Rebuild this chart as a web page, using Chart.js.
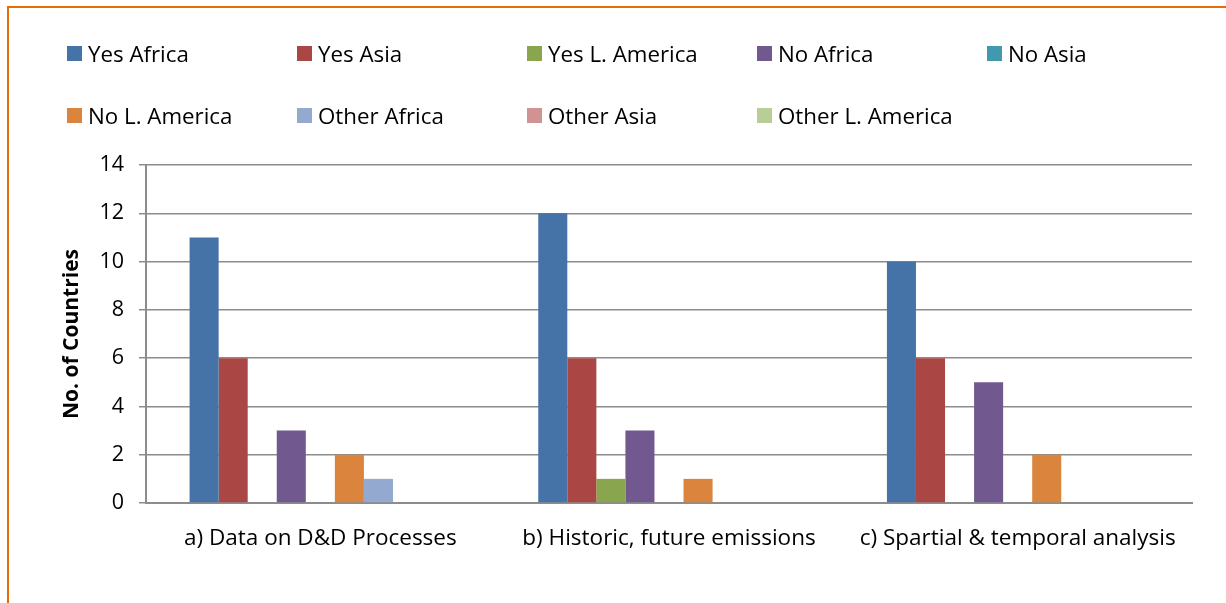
<!DOCTYPE html>
<html>
<head>
<meta charset="utf-8">
<script src="https://cdn.jsdelivr.net/npm/chart.js@4.4.1/dist/chart.umd.min.js"></script>
<style>
  html, body { margin: 0; padding: 0; background: #fff; overflow: hidden; }
  #wrap { position: relative; width: 1226px; height: 603px; overflow: hidden; }
  #frame { position: absolute; left: 7px; top: 6px; width: 1400px; height: 800px;
           border-left: 2px solid #E46C0A; border-top: 2px solid #E46C0A; }
  #chart { position: absolute; left: 0; top: 0; }
  #legend { position: absolute; left: 0; top: 0; width: 1226px; height: 150px;
            font-family: "Open Sans", Lato, sans-serif; font-size: 22.3px; color: #000; }
  .item { position: absolute; display: flex; align-items: center; white-space: nowrap; }
  .sw { width: 15px; height: 15px; margin-right: 6px; }
</style>
</head>
<body>
<div id="wrap">
  <div id="frame"></div>
  <canvas id="chart" width="1226" height="603"></canvas>
  <div id="legend"></div>
</div>
<script>
// Survey categories
const categories = [
  "a) Data on D&D Processes",
  "b) Historic, future emissions",
  "c) Spartial & temporal analysis"
];

// Number of countries per answer and region
const yesAfrica   = [11, 12, 10];
const yesAsia     = [6, 6, 6];
const yesLAmerica = [0, 1, 0];
const noAfrica    = [3, 3, 5];
const noAsia      = [0, 0, 0];
const noLAmerica  = [2, 1, 2];
const otherAfrica = [1, 0, 0];
const otherAsia   = [0, 0, 0];
const otherLAmerica = [0, 0, 0];

const yTicks = [0, 2, 4, 6, 8, 10, 12, 14];

const series = [
  { label: "Yes Africa",       data: yesAfrica,     color: "#4572A7" },
  { label: "Yes Asia",         data: yesAsia,       color: "#AA4643" },
  { label: "Yes L. America",   data: yesLAmerica,   color: "#89A54E" },
  { label: "No Africa",        data: noAfrica,      color: "#71588F" },
  { label: "No Asia",          data: noAsia,        color: "#4198AF" },
  { label: "No L. America",    data: noLAmerica,    color: "#DB843D" },
  { label: "Other Africa",     data: otherAfrica,   color: "#93A9CF" },
  { label: "Other Asia",       data: otherAsia,     color: "#D19392" },
  { label: "Other L. America", data: otherLAmerica, color: "#B9CD96" }
];

const FONT = "'Open Sans', Lato, sans-serif";
const GRID = "#8C8C8C";

const chart = new Chart(document.getElementById("chart"), {
  type: "bar",
  data: {
    labels: categories,
    datasets: series.map(s => ({
      label: s.label,
      data: s.data,
      backgroundColor: s.color,
      borderWidth: 0,
      categoryPercentage: 0.75,
      barPercentage: 1.0
    }))
  },
  options: {
    responsive: false,
    animation: false,
    events: [],
    layout: { padding: { left: 8, top: 165, right: 34, bottom: 0 } },
    plugins: { legend: { display: false }, tooltip: { enabled: false } },
    scales: {
      x: {
        grid: { display: false, drawTicks: false },
        border: { display: true, color: GRID, width: 2 },
        ticks: { color: "#000", font: { family: FONT, size: 22.5 }, padding: 22, maxRotation: 0 },
        afterFit: s => { s.height = 100; }
      },
      y: {
        min: 0, max: 14,
        afterBuildTicks: s => { s.ticks = yTicks.map(v => ({ value: v })); },
        grid: { color: GRID, lineWidth: 1.5, tickLength: 7, drawTicks: true },
        border: { display: true, color: GRID, width: 2 },
        ticks: { color: "#000", font: { family: FONT, size: 21.5 }, padding: 15 },
        title: { display: true, text: "No. of Countries", color: "#000",
                 font: { family: FONT, size: 21, weight: "bold" }, padding: { top: 51, bottom: 0 } },
        afterFit: s => { s.width = 138; }
      }
    }
  }
});

// Legend laid out on a fixed grid of columns
const legend = document.getElementById("legend");
chart.data.datasets.forEach((ds, i) => {
  const row = Math.floor(i / 5), col = i % 5;
  const el = document.createElement("div");
  el.className = "item";
  el.style.left = (67 + col * 230) + "px";
  el.style.top = (38 + row * 62) + "px";
  el.style.height = "30px";
  const sw = document.createElement("span");
  sw.className = "sw";
  sw.style.background = ds.backgroundColor;
  const tx = document.createElement("span");
  tx.textContent = ds.label;
  el.appendChild(sw); el.appendChild(tx);
  legend.appendChild(el);
});
</script>
</body>
</html>
